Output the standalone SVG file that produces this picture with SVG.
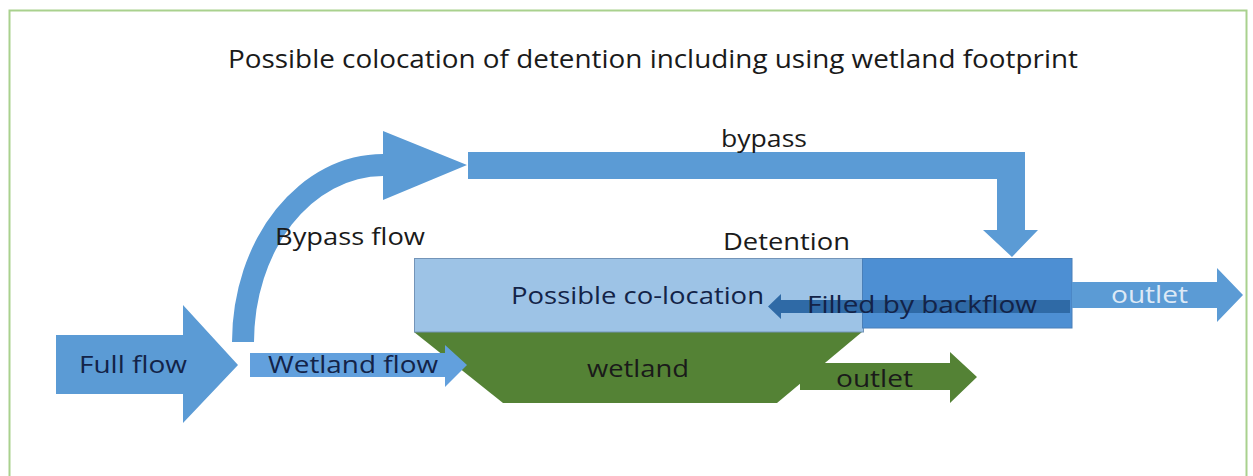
<svg xmlns="http://www.w3.org/2000/svg" width="1253" height="476" viewBox="0 0 1253 476">
<style>
text{font-family:"Open Sans","Liberation Sans",sans-serif;}
.lbl{font-size:24px;fill:#1a1a1a;}
.dk{font-size:24px;fill:#132348;}
.blue{fill:#5b9bd5;}
.green{fill:#548235;}
</style>
<rect x="0" y="0" width="1253" height="476" fill="#ffffff"/>
<rect x="9.5" y="10.5" width="1237" height="480" fill="none" stroke="#a9d18e" stroke-width="2"/>
<text x="228" y="68" font-size="26" fill="#1a1a1a" textLength="850" lengthAdjust="spacingAndGlyphs">Possible colocation of detention including using wetland footprint</text>

<g id="wetland">
<polygon class="green" points="414,332 862,332 777,403 503,403"/>
<text class="lbl" x="587" y="377" textLength="102" lengthAdjust="spacingAndGlyphs">wetland</text>
</g>
<g id="colocation">
<rect x="414.5" y="258.5" width="449" height="73.5" fill="#9dc3e6" stroke="#7394b8" stroke-width="1"/>
<text class="dk" x="511" y="304" textLength="253" lengthAdjust="spacingAndGlyphs">Possible co-location</text>
</g>
<g id="detention">
<rect x="862.5" y="258.5" width="209.5" height="69.5" fill="#4d8fd3" stroke="#4a7fb8" stroke-width="1"/>
<text class="lbl" x="723" y="250" textLength="127" lengthAdjust="spacingAndGlyphs">Detention</text>
</g>

<g id="connectors">
<g id="full-flow">
<polygon class="blue" points="56,335 183,335 183,305 238,365 183,423 183,394 56,394"/>
<text class="dk" x="79" y="373" textLength="108" lengthAdjust="spacingAndGlyphs">Full flow</text>
</g>
<g id="bypass-flow">
<path class="blue" d="M232,342 A151,188 0 0 1 383,154 L383,131 L467,165 L383,200 L383,176 A129,166 0 0 0 254,342 Z"/>
<text class="lbl" x="275" y="245" textLength="150" lengthAdjust="spacingAndGlyphs">Bypass flow</text>
</g>
<g id="bypass">
<polygon class="blue" points="468,152 1025,152 1025,230 1038,230 1012,257 983,230 997,230 997,179 468,179"/>
<text class="lbl" x="721" y="147" textLength="86" lengthAdjust="spacingAndGlyphs">bypass</text>
</g>
<g id="wetland-flow">
<polygon fill="#62a0dd" points="250,353 445,353 445,345 467,365 445,387 445,377 250,377"/>
<text class="dk" x="268" y="373" textLength="170" lengthAdjust="spacingAndGlyphs">Wetland flow</text>
</g>
<g id="wetland-outlet">
<polygon class="green" points="800,363 950,363 950,352 977,377 950,403 950,390 800,390"/>
<text class="lbl" x="836" y="387" textLength="77" lengthAdjust="spacingAndGlyphs">outlet</text>
</g>
<g id="detention-outlet">
<polygon class="blue" points="1072,282 1217,282 1217,268 1243,295 1217,322 1217,308 1072,308"/>
<text x="1111" y="303" font-size="24" fill="#dde9f6" textLength="77" lengthAdjust="spacingAndGlyphs">outlet</text>
</g>
<g id="backflow">
<polygon fill="#2f6aa6" points="1070,300 781,300 781,294 768,306.5 781,319 781,313 1070,313"/>
<text class="dk" x="807" y="313" textLength="230" lengthAdjust="spacingAndGlyphs">Filled by backflow</text>
</g>
</g>
</svg>
